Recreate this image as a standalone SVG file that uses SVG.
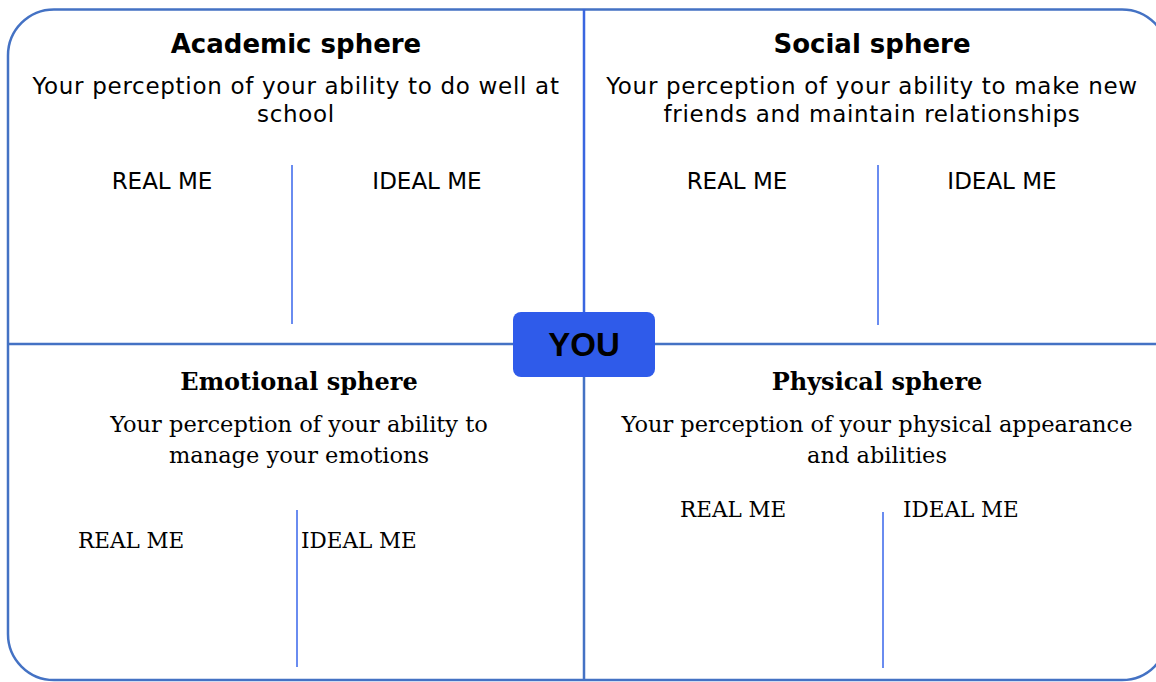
<svg xmlns="http://www.w3.org/2000/svg" width="1156" height="682" viewBox="0 0 1156 682">
<style>
.frame{fill:none;stroke:#4472C4;stroke-width:2.5}
.divtop{stroke:#3A66E0;stroke-width:2.5}
.div{stroke:#4472C4;stroke-width:2.5}
.split{stroke:#6A8CF0;stroke-width:2}
.h1{font-family:"DejaVu Sans",sans-serif;font-weight:bold;font-size:26px;fill:#000;text-anchor:middle}
.t1{font-family:"DejaVu Sans",sans-serif;font-size:23px;fill:#000;text-anchor:middle}
.sp{letter-spacing:0.7px}
.h2{font-family:"DejaVu Serif",serif;font-weight:bold;font-size:24px;fill:#000;text-anchor:middle}
.t2{font-family:"DejaVu Serif",serif;font-size:22.5px;fill:#000;text-anchor:middle}
.lab{font-family:"DejaVu Serif",serif;font-size:21.5px;fill:#000;text-anchor:start}
.you{font-family:"Liberation Sans",sans-serif;font-weight:bold;font-size:33px;fill:#000;text-anchor:middle}
</style>
<rect width="1156" height="682" fill="#fff"/>
<g id="connectors">
<rect class="frame" x="8" y="9.5" width="1160" height="670.5" rx="46" ry="46"/>
<line class="divtop" x1="584" y1="9" x2="584" y2="312"/>
<line class="div" x1="584" y1="377" x2="584" y2="680"/>
<line class="div" x1="8" y1="344" x2="513" y2="344"/>
<line class="div" x1="655" y1="344" x2="1156" y2="344"/>
</g>
<g id="academic">
<text class="h1" x="296" y="53">Academic sphere</text>
<text class="t1 sp" x="296" y="94">Your perception of your ability to do well at</text>
<text class="t1 sp" x="296" y="122">school</text>
<text class="t1" x="162" y="189">REAL ME</text>
<text class="t1" x="427" y="189">IDEAL ME</text>
<line class="split" x1="292" y1="165" x2="292" y2="324"/>
</g>
<g id="social">
<text class="h1" x="872" y="53">Social sphere</text>
<text class="t1 sp" x="872" y="94">Your perception of your ability to make new</text>
<text class="t1 sp" x="872" y="122">friends and maintain relationships</text>
<text class="t1" x="737" y="189">REAL ME</text>
<text class="t1" x="1002" y="189">IDEAL ME</text>
<line class="split" x1="878" y1="165" x2="878" y2="325"/>
</g>
<g id="emotional">
<text class="h2" x="299" y="390">Emotional sphere</text>
<text class="t2" x="299" y="432">Your perception of your ability to</text>
<text class="t2" x="299" y="463">manage your emotions</text>
<text class="lab" x="78" y="548">REAL ME</text>
<text class="lab" x="301" y="548">IDEAL ME</text>
<line class="split" x1="297" y1="510" x2="297" y2="667"/>
</g>
<g id="physical">
<text class="h2" x="877" y="390">Physical sphere</text>
<text class="t2" x="877" y="432">Your perception of your physical appearance</text>
<text class="t2" x="877" y="463">and abilities</text>
<text class="lab" x="680" y="517">REAL ME</text>
<text class="lab" x="903" y="517">IDEAL ME</text>
<line class="split" x1="883" y1="512" x2="883" y2="668"/>
</g>
<g id="you">
<rect x="513" y="312" width="142" height="65" rx="8" ry="8" fill="#2F5BEA"/>
<text class="you" x="584" y="356">YOU</text>
</g>
</svg>
